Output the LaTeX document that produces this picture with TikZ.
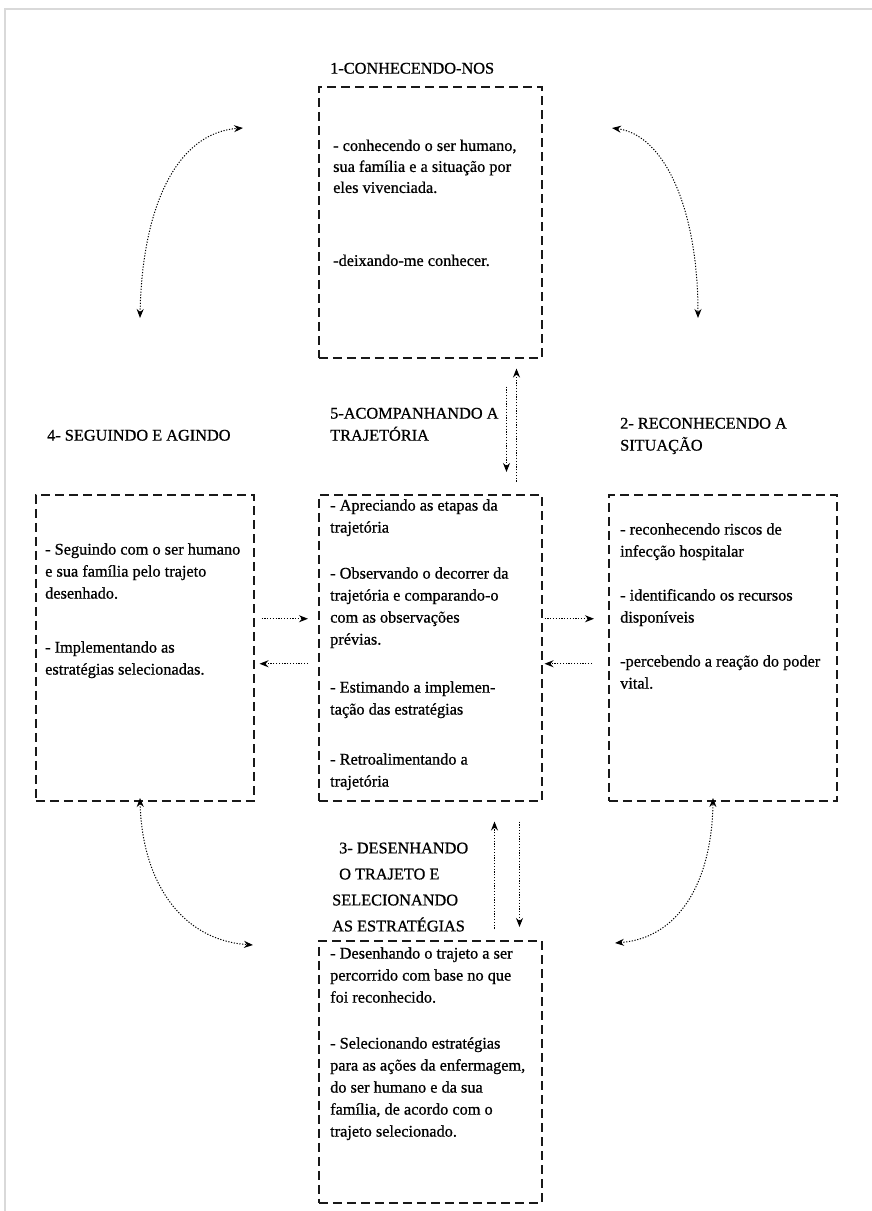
\documentclass[tikz,border=0pt]{standalone}
\usepackage{fontspec}
\setmainfont{Liberation Serif}[FakeBold=0.8]
\usetikzlibrary{arrows.meta,calc}
\begin{document}
\begin{tikzpicture}[x=1pt,y=-1pt,
  box/.style={draw=black!90, line width=1.5pt, dash pattern=on 9pt off 5pt,
    minimum width=223pt, minimum height=271pt, anchor=north west, inner sep=0pt},
  txt/.style={anchor=north west, inner sep=0pt, align=left,
    font=\fontsize{16.3}{22}\selectfont, text=black},
  ttl/.style={txt},
  tip/.tip={Stealth[length=9pt,width=7pt]},
  conn/.style={line width=1pt, dash pattern=on 1.2pt off 1.6pt, -tip},
  arc/.style={conn, tip-tip}
]
% canvas and page frame
\useasboundingbox (0,0) rectangle (872,1211);
\draw[black!15, line width=1.2pt] (5,1211) -- (5,9) -- (872,9);

% the five stage boxes
\node[box, minimum width=223pt, minimum height=271pt] (b1) at (318,86) {};
\node[box, minimum width=218pt, minimum height=306pt] (b4) at (35,494) {};
\node[box, minimum width=223pt, minimum height=306pt] (b5) at (318,494) {};
\node[box, minimum width=228pt, minimum height=306pt] (b2) at (608,494) {};
\node[box, minimum width=223pt, minimum height=262pt] (b3) at (318,940) {};

% titles
\node[ttl] (t1) at (330,58) {\strut 1-CONHECENDO-NOS};
\node[ttl] (t5) at (330,403) {\strut 5-ACOMPANHANDO A\\TRAJETÓRIA};
\node[ttl] (t4) at (47,425) {\strut 4- SEGUINDO E AGINDO};
\node[ttl] (t2) at (620,413) {\strut 2- RECONHECENDO A\\SITUAÇÃO};
\node[ttl, font=\fontsize{16.3}{26}\selectfont] (t3) at (332,835)
  {\strut\hspace{7pt}3- DESENHANDO\\\hspace{7pt}O TRAJETO E\\SELECIONANDO\\AS ESTRATÉGIAS};

% box contents
\node[txt, font=\fontsize{16.3}{21}\selectfont] (x1) at (333,136)
  {\strut - conhecendo o ser humano,\\sua família e a situação por\\eles vivenciada.\\[52pt]-deixando-me conhecer.};
\node[txt] (x5) at (330,495)
  {\strut - Apreciando as etapas da\\trajetória\\[24pt]- Observando o decorrer da\\trajetória e comparando-o\\com as observações\\prévias.\\[26pt]- Estimando a implemen-\\tação das estratégias\\[28pt]- Retroalimentando a\\trajetória};
\node[txt] (x4) at (45,539)
  {\strut - Seguindo com o ser humano\\e sua família pelo trajeto\\desenhado.\\[32pt]- Implementando as\\estratégias selecionadas.};
\node[txt] (x2) at (620,519)
  {\strut - reconhecendo riscos de\\infecção hospitalar\\[22pt]- identificando os recursos\\disponíveis\\[22pt]-percebendo a reação do poder\\vital.};
\node[txt] (x3) at (330,943)
  {\strut - Desenhando o trajeto a ser\\percorrido com base no que\\foi reconhecido.\\[24pt]- Selecionando estratégias\\para as ações da enfermagem,\\do ser humano e da sua\\família, de acordo com o\\trajeto selecionado.};

% links between the centre box and its neighbours
\draw[conn] ([shift={(-26,123)}]b1.south east) -- ([shift={(-26,10)}]b1.south east);
\draw[conn] ([shift={(-36,28)}]b1.south east) -- ([shift={(-36,-22)}]b5.north east);
\draw[conn] ([shift={(7,-29)}]b4.east) -- ([shift={(-10,-29)}]b5.west);
\draw[conn] ([shift={(-10,16)}]b5.west) -- ([shift={(5,16)}]b4.east);
\draw[conn] ([shift={(2,-29)}]b5.east) -- ([shift={(-14,-29)}]b2.west);
\draw[conn] ([shift={(-16,16)}]b2.west) -- ([shift={(2,16)}]b5.east);
\draw[conn] ([shift={(-48,127)}]b5.south east) -- ([shift={(-48,20)}]b5.south east);
\draw[conn] ([shift={(-23,20)}]b5.south east) -- ([shift={(-23,-13)}]b3.north east);

% cycle arcs around the outer boxes
\coordinate (a1) at (243,128);  \coordinate (a2) at (140,318);
\coordinate (a3) at (612,128);  \coordinate (a4) at (698,318);
\coordinate (a5) at (140,798);  \coordinate (a6) at (253,945);
\coordinate (a7) at (713,798);  \coordinate (a8) at (615,943);
\draw[arc] (a2) .. controls (142,210) and (175,133) .. (a1);
\draw[arc] (a3) .. controls (665,135) and (698,210) .. (a4);
\draw[arc] (a5) .. controls (142,880) and (180,940) .. (a6);
\draw[arc] (a8) .. controls (680,938) and (712,880) .. (a7);
\end{tikzpicture}
\end{document}
